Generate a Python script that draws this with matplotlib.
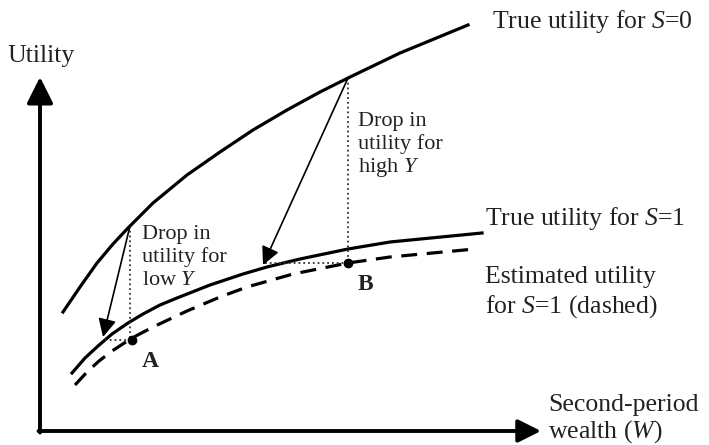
import numpy as np
import matplotlib
matplotlib.use('Agg')
import matplotlib.pyplot as plt

# curves (W = wealth, U = utility, origin at axis corner)
s0_w = [23, 40, 57, 73, 88, 113, 147, 180, 213, 247, 280, 308, 360, 428]
s0_u = [119, 144, 168, 187, 203, 228, 256, 279, 301, 321, 339, 353, 378, 406]

s1_w = [32, 45, 58, 72, 88, 103, 120, 137, 170, 203, 227, 260, 308, 350, 442]
s1_u = [58, 73, 85, 97, 108, 117, 126, 133, 146, 157, 164, 172, 182, 189, 198]

est_w = [35, 47, 59, 72, 92, 113, 147, 180, 207, 253, 308, 350, 435]
est_u = [46, 59, 70, 80, 93, 104, 120, 134, 144, 157, 168, 174, 182]

# drop points: low Y (A) and high Y (B)
drop_w = [90, 308]
drop_top = [205, 353]
drop_tip_w = [63, 223]
drop_tip_u = [94, 166]
dot_w = [92, 308]
dot_u = [91, 168]

plt.rcParams['font.family'] = ['Liberation Serif', 'DejaVu Serif']
plt.rcParams['mathtext.fontset'] = 'custom'
plt.rcParams['mathtext.rm'] = 'Liberation Serif'
plt.rcParams['mathtext.it'] = 'Liberation Serif:italic'

fig = plt.figure(figsize=(7.09, 4.45), dpi=100)
ax = fig.add_axes([0, 0, 1, 1])
ax.set_xlim(-40, 669)
ax.set_ylim(-14, 431)
ax.axis('off')

txt = '#222222'
big = 18.5
small = 16

# axes with arrow heads
ax.annotate('', xy=(0, 354), xytext=(0, -1.5),
            arrowprops=dict(arrowstyle='-|>,head_length=1,head_width=0.5', mutation_scale=16,
                            lw=2.8, color='black', shrinkA=0, shrinkB=0))
ax.annotate('', xy=(501, 0), xytext=(-1.5, 0),
            arrowprops=dict(arrowstyle='-|>,head_length=1,head_width=0.5', mutation_scale=14,
                            lw=2.8, color='black', shrinkA=0, shrinkB=0))

# utility curves
ax.plot(s0_w, s0_u, color='black', lw=2.3)
ax.plot(s1_w, s1_u, color='black', lw=2.3)
ax.plot(est_w, est_u, color='black', lw=2.3, dashes=(5, 3))

for i in range(2):
    # vertical dotted drop
    ax.plot([drop_w[i], drop_w[i]], [drop_top[i], dot_u[i]], color='#333333', lw=1.3, ls=':')
    # horizontal dotted
    ax.plot([drop_tip_w[i] + 2, dot_w[i]], [dot_u[i], dot_u[i]], color='#333333', lw=1.3, ls=':')
    ax.annotate('', xy=(drop_tip_w[i], drop_tip_u[i]), xytext=(drop_w[i], drop_top[i]),
                arrowprops=dict(arrowstyle='-|>,head_length=1,head_width=0.5', mutation_scale=11,
                                lw=1.2, color='black', shrinkA=0, shrinkB=0))
    ax.plot(dot_w[i], dot_u[i], 'o', color='black', ms=6)

ax.text(102, 64, 'A', fontsize=17, fontweight='bold', color=txt)
ax.text(318, 141, 'B', fontsize=17, fontweight='bold', color=txt)

# labels
ax.text(-33, 369, 'Utility', fontsize=big, color=txt)
ax.text(452, 403, 'True utility for $S$=0', fontsize=big, color=txt)
ax.text(445, 206, 'True utility for $S$=1', fontsize=big, color=txt)
ax.text(445, 148, 'Estimated utility', fontsize=big, color=txt)
ax.text(445, 118, 'for $S$=1 (dashed)', fontsize=big, color=txt)
ax.text(508, 20, 'Second-period', fontsize=big, color=txt)
ax.text(508, -7, 'wealth ($W$)', fontsize=big, color=txt)

high_lines = ['Drop in', 'utility for', 'high $Y$']
low_lines = ['Drop in', 'utility for', 'low $Y$']
for k in range(3):
    ax.text(318, 305 - 23 * k, high_lines[k], fontsize=small, color=txt)
    ax.text(102, 192 - 23 * k, low_lines[k], fontsize=small, color=txt)

fig.savefig('out.png', dpi=100)
